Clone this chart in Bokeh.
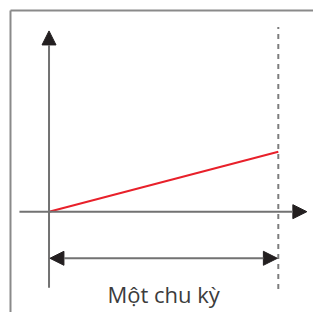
from bokeh.plotting import figure
from bokeh.models import Arrow, NormalHead, Range1d
from bokeh.core.properties import value
from bokeh.embed import file_html
from bokeh.resources import INLINE

# Data: one cycle of a linearly rising quantity
t_cycle = [0.0, 1.0]          # time, in periods
ramp = [0.0, 1.0]             # value rises from 0 to its peak over one cycle
label = ["Một chu kỳ"]

# Layout (data units: 1 period horizontally, peak value vertically)
x_axis_span = [-0.129, 1.1245]
y_axis_span = [-1.27, 3.016]
period_marker_span = [-1.29, 3.08]
span_arrow_level = -0.778
label_level = -1.37
frame_left = -0.168
frame_top = 3.357

p = figure(width=313, height=312, output_backend="svg", toolbar_location=None,
           x_range=Range1d(-0.2116, 1.1535), y_range=Range1d(-1.6825, 3.5238),
           min_border=0)
p.axis.visible = False
p.grid.visible = False
p.outline_line_color = None
p.background_fill_color = "white"

# outer frame
p.line([frame_left, frame_left], [frame_top, -5], line_color="#8a8a8a", line_width=2)
p.line([frame_left, 5], [frame_top, frame_top], line_color="#8a8a8a", line_width=2)

# period marker (dashed)
p.line([t_cycle[1], t_cycle[1]], period_marker_span, line_color="#7d7d7d",
       line_width=2, line_dash="5 5")

head = dict(size=14, fill_color="#231f20", line_color="#231f20")

# axes with arrowheads
p.add_layout(Arrow(end=NormalHead(**head),
                   x_start=x_axis_span[0], y_start=0, x_end=x_axis_span[1], y_end=0,
                   line_color="#727272", line_width=2))
p.add_layout(Arrow(end=NormalHead(**head),
                   x_start=0, y_start=y_axis_span[0], x_end=0, y_end=y_axis_span[1],
                   line_color="#727272", line_width=2))

# ramp
p.line(t_cycle, ramp, line_color="#e8202a", line_width=2)

# double arrow spanning one cycle
p.add_layout(Arrow(start=NormalHead(**head), end=NormalHead(**head),
                   x_start=t_cycle[0] + 0.004, y_start=span_arrow_level,
                   x_end=t_cycle[1] - 0.004, y_end=span_arrow_level,
                   line_color="#727272", line_width=2))

p.text(x=[(t_cycle[0] + t_cycle[1]) / 2], y=[label_level], text=label,
       text_font=value("Open Sans"), text_font_size="22px", text_color="#3c3c3c",
       text_align="center", text_baseline="alphabetic")

open("out.html", "w").write(file_html(p, INLINE))
